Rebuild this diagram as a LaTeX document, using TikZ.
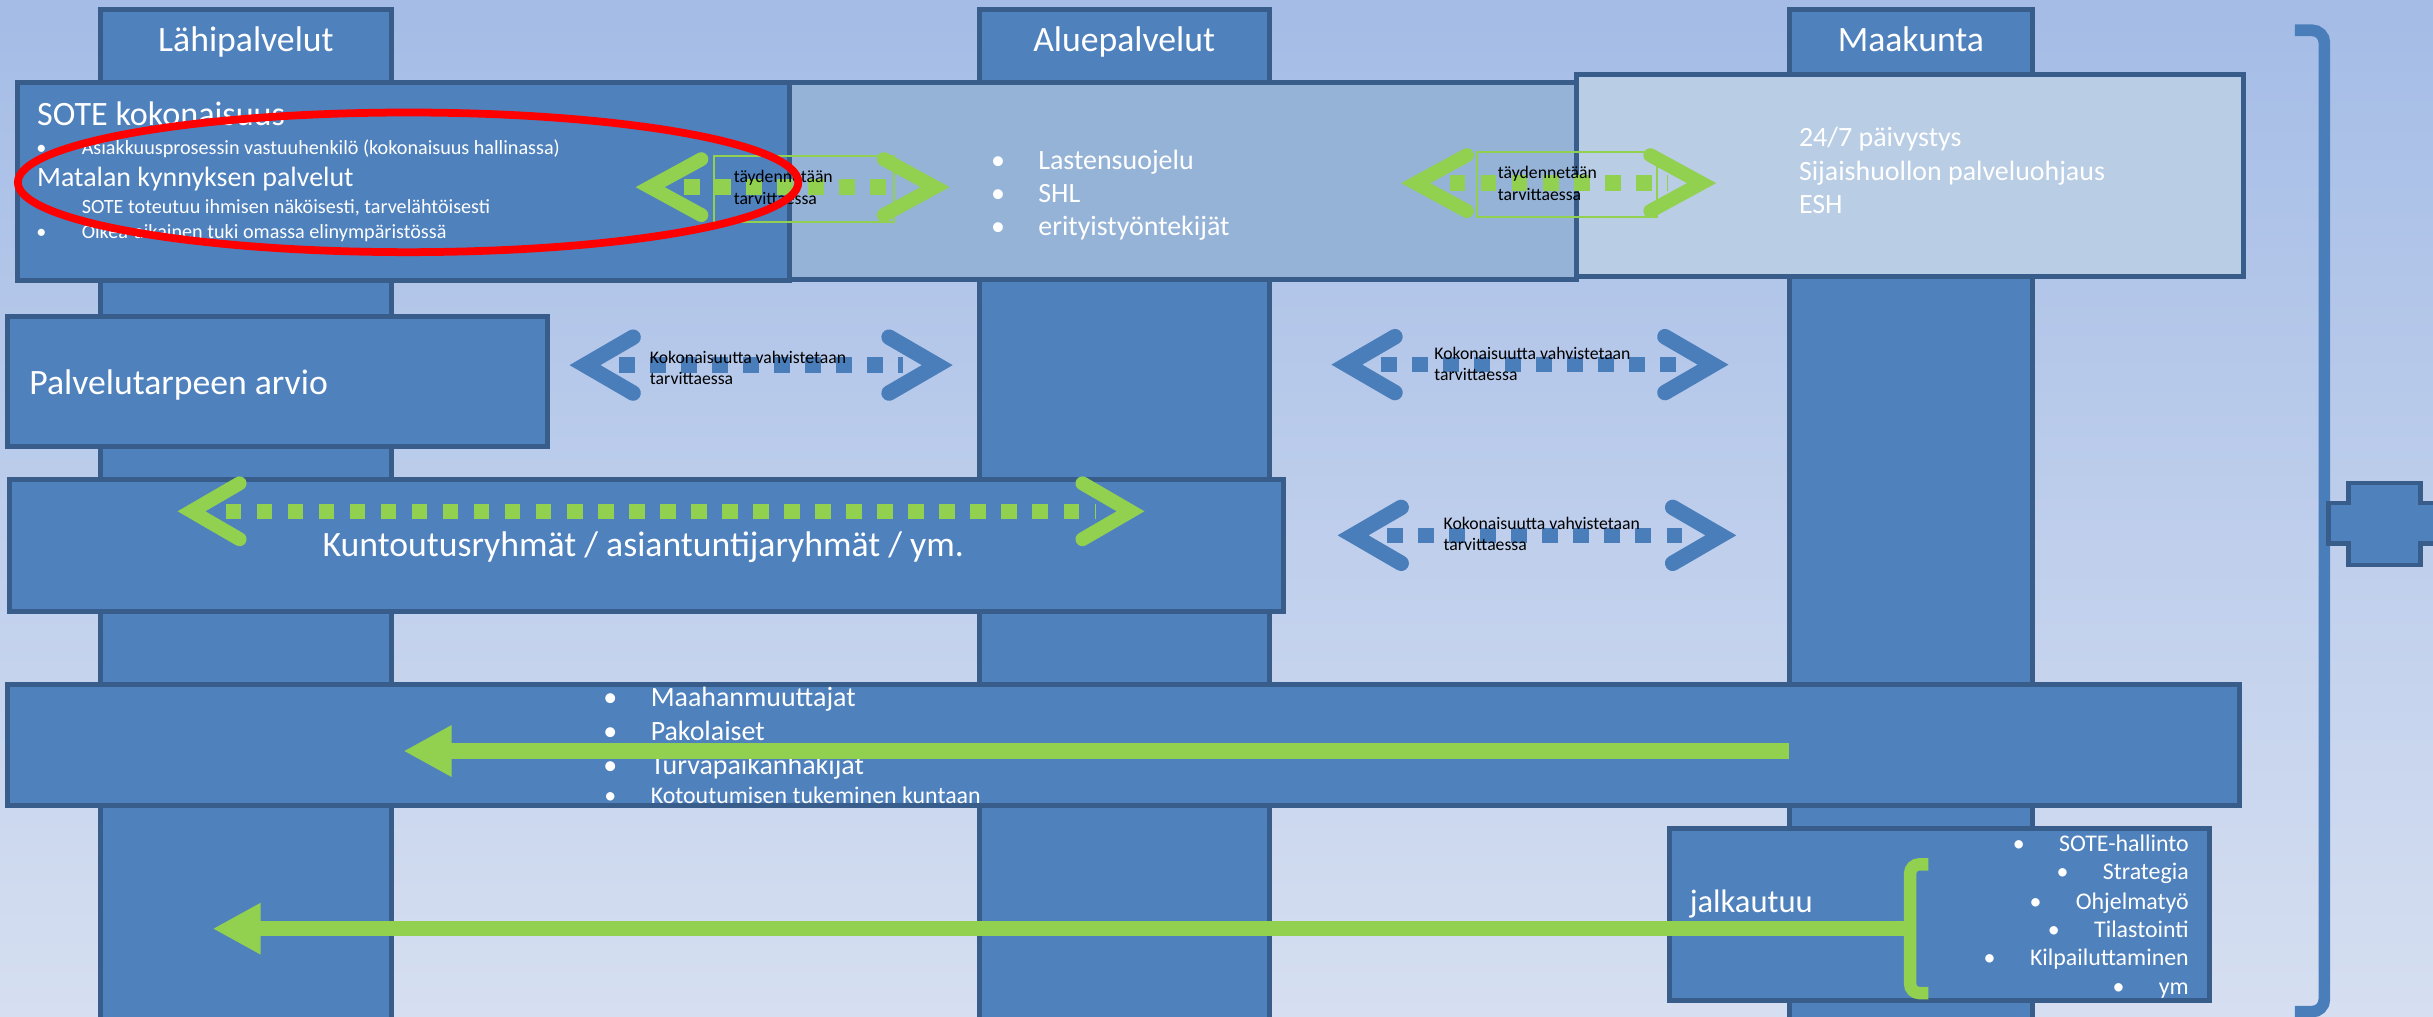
\documentclass[tikz,border=0pt]{standalone}
\usepackage{fontspec}
\setmainfont{Carlito}
\usetikzlibrary{arrows.meta}
\definecolor{bgtop}{RGB}{164,188,230}
\definecolor{bgbot}{RGB}{214,223,241}
\definecolor{boxblue}{RGB}{79,129,189}
\definecolor{boxline}{RGB}{56,93,138}
\definecolor{paleA}{RGB}{149,179,215}
\definecolor{paleB}{RGB}{185,205,229}
\definecolor{leaf}{RGB}{146,208,80}
\definecolor{arrowblue}{RGB}{74,126,187}
\tikzstyle{box} = [draw=boxline, line width=1.6pt, fill=boxblue]
\tikzstyle{lbl} = [inner sep=0pt, text=white, anchor=base west]
\tikzstyle{colhead} = [lbl, anchor=base, font=\fontsize{11.5}{14}\selectfont]
\tikzstyle{txtbig} = [lbl, font=\fontsize{11.5}{14}\selectfont]
\tikzstyle{txtmid} = [lbl, font=\fontsize{9}{11}\selectfont]
\tikzstyle{txtsmall} = [lbl, font=\fontsize{7.7}{9}\selectfont]
\tikzstyle{txttiny} = [lbl, font=\fontsize{6.5}{8}\selectfont]
\tikzstyle{note} = [inner sep=0pt, text=black, anchor=base west, font=\fontsize{5.7}{7}\selectfont]
\tikzstyle{textframe} = [draw=leaf, line width=0.6pt]
\tikzstyle{gchev} = [draw=leaf, line width=4.5pt, line cap=round, line join=miter]
\tikzstyle{bchev} = [draw=arrowblue, line width=5pt, line cap=round, line join=miter]
\tikzstyle{gdots} = [draw=leaf, line width=5pt, dash pattern=on 5pt off 5pt, shorten <=11pt, shorten >=11pt]
\tikzstyle{bdots} = [draw=arrowblue, line width=5pt, dash pattern=on 5pt off 5pt, shorten <=11pt, shorten >=11pt]
\tikzstyle{bigarrow} = [draw=leaf, line width=5pt, -{Triangle[length=15.5pt,width=15.5pt]}, color=leaf]
\tikzstyle{redring} = [draw=red, line width=2.5pt]
\newcommand{\bul}{\llap{\makebox[26pt][c]{\textbullet}}}

\begin{document}
\begin{tikzpicture}[x=0.5pt, y=-0.5pt]
  \useasboundingbox (0,0) rectangle (1568,655);
  \clip (0,0) rectangle (1568,655);
  \fill[top color=bgtop, bottom color=bgbot] (0,0) rectangle (1568,655);

  % columns
  \draw[box] (65,6) rectangle (252,700);
  \draw[box] (631,6) rectangle (818,700);
  \draw[box] (1153,6) rectangle (1310,700);
  \node[colhead] (hlahi) at (158.5,33.3) {Lähipalvelut};
  \node[colhead] (halue) at (724.5,33.3) {Aluepalvelut};
  \node[colhead] (hmaak) at (1231.5,33.3) {Maakunta};

  % boxes
  \draw[box] (11,53) rectangle (509,181);
  \draw[box, fill=paleA] (509,53) rectangle (1016,180);
  \draw[box, fill=paleB] (1016,48) rectangle (1446,178);
  \draw[box] (5,204) rectangle (353,288);
  \draw[box] (6,309) rectangle (827,394);
  \draw[box] (5,441) rectangle (1443,519);
  \draw[box] (1076,534) rectangle (1424,645);

  \node[lbl, font=\fontsize{11}{13}\selectfont] (sote) at (23.6,80.6) {SOTE kokonaisuus};
  \node[txttiny] (sote1) at (52.3,99.3) {\bul Asiakkuusprosessin vastuuhenkilö (kokonaisuus hallinassa)};
  \node[txtmid] (matala) at (23.6,119.9) {Matalan kynnyksen palvelut};
  \node[txttiny] (sote2) at (52.3,137.5) {SOTE toteutuu ihmisen näköisesti, tarvelähtöisesti};
  \node[txttiny] (sote3) at (52.3,153.6) {\bul Oikea-aikainen tuki omassa elinympäristössä};

  \node[txtmid] (lasten1) at (668.8,109.3) {\bul Lastensuojelu};
  \node[txtmid] (lasten2) at (668.8,130.8) {\bul SHL};
  \node[txtmid] (lasten3) at (668.8,152) {\bul erityistyöntekijät};

  \node[txtmid] (paiv1) at (1159,94.5) {24/7 päivystys};
  \node[txtmid] (paiv2) at (1159,116) {Sijaishuollon palveluohjaus};
  \node[txtmid] (paiv3) at (1159,137.5) {ESH};

  \node[txtbig] (arvio) at (18.5,254.1) {Palvelutarpeen arvio};
  \node[txtbig] (kunt) at (207.5,358.7) {Kuntoutusryhmät / asiantuntijaryhmät / ym.};

  \node[txtmid] (maah1) at (419,455.4) {\bul Maahanmuuttajat};
  \node[txtmid] (maah2) at (419,477) {\bul Pakolaiset};
  \node[txtmid] (maah3) at (419,499) {\bul Turvapaikanhakijat};
  \node[txtsmall] (maah4) at (419,517.7) {\bul Kotoutumisen tukeminen kuntaan};

  \node[lbl, font=\fontsize{10.5}{12}\selectfont] (jalk) at (1088.6,588.2) {jalkautuu};
  \node[txtsmall, anchor=base east] (list1) at (1411,548.9) {\bul SOTE-hallinto};
  \node[txtsmall, anchor=base east] (list2) at (1411,567.1) {\bul Strategia};
  \node[txtsmall, anchor=base east] (list3) at (1411,586) {\bul Ohjelmatyö};
  \node[txtsmall, anchor=base east] (list4) at (1411,604.3) {\bul Tilastointi};
  \node[txtsmall, anchor=base east] (list5) at (1411,622.5) {\bul Kilpailuttaminen};
  \node[txtsmall, anchor=base east] (list6) at (1411,641.2) {\bul ym};

  % double arrows
  \coordinate (g1l) at (419,120.6);
  \coordinate (g1r) at (602.6,120.6);
  \coordinate (g2l) at (912.4,118);
  \coordinate (g2r) at (1096.6,118);
  \coordinate (g3l) at (123.4,329.5);
  \coordinate (g3r) at (728.6,329.5);
  \coordinate (b1l) at (377,235.3);
  \coordinate (b1r) at (604,235.3);
  \coordinate (b2l) at (868,235);
  \coordinate (b2r) at (1104,235);
  \coordinate (b3l) at (872,345);
  \coordinate (b3r) at (1109,345);

  \draw[textframe] (460,100.5) rectangle (576,143);
  \draw[textframe] (952,98) rectangle (1068,140);
  \draw[gdots] (g1l) -- (g1r);
  \draw[gdots] (g2l) -- (g2r);
  \draw[gdots] (g3l) -- (g3r);
  \draw[bdots] (b1l) -- (b1r);
  \draw[bdots] (b2l) -- (b2r);
  \draw[bdots] (b3l) -- (b3r);
  \draw[gchev] (g1l) ++(33,-18) -- (g1l) -- ++(33,18);
  \draw[gchev] (g1r) ++(-33,-18) -- (g1r) -- ++(-33,18);
  \draw[gchev] (g2l) ++(33,-18) -- (g2l) -- ++(33,18);
  \draw[gchev] (g2r) ++(-33,-18) -- (g2r) -- ++(-33,18);
  \draw[gchev] (g3l) ++(31,-18) -- (g3l) -- ++(31,18);
  \draw[gchev] (g3r) ++(-31,-18) -- (g3r) -- ++(-31,18);
  \draw[bchev] (b1l) ++(31,-18) -- (b1l) -- ++(31,18);
  \draw[bchev] (b1r) ++(-31,-18) -- (b1r) -- ++(-31,18);
  \draw[bchev] (b2l) ++(31,-18) -- (b2l) -- ++(31,18);
  \draw[bchev] (b2r) ++(-31,-18) -- (b2r) -- ++(-31,18);
  \draw[bchev] (b3l) ++(31,-18) -- (b3l) -- ++(31,18);
  \draw[bchev] (b3r) ++(-31,-18) -- (b3r) -- ++(-31,18);

  \node[note] (t1a) at (472.5,117.7) {täydennetään};
  \node[note] (t1b) at (472.5,131.5) {tarvittaessa};
  \node[note] (t2a) at (965,115) {täydennetään};
  \node[note] (t2b) at (965,129) {tarvittaessa};
  \node[note] (k1a) at (418.5,234) {Kokonaisuutta vahvistetaan};
  \node[note] (k1b) at (418.5,247.5) {tarvittaessa};
  \node[note] (k2a) at (924,231.6) {Kokonaisuutta vahvistetaan};
  \node[note] (k2b) at (924,245.5) {tarvittaessa};
  \node[note] (k3a) at (930,341) {Kokonaisuutta vahvistetaan};
  \node[note] (k3b) at (930,355) {tarvittaessa};

  % big arrows
  \coordinate (a1s) at (1153,484);
  \coordinate (a1e) at (260,484);
  \coordinate (brk) at (1228,598.5);
  \coordinate (a2e) at (137,598.5);
  \draw[bigarrow] (a1s) -- (a1e);
  \draw[bigarrow] (brk) -- (a2e);
  \draw[leaf, line width=4pt, rounded corners=3pt] (1242.7,557) -- (1231,557) -- (1231,640) -- (1242.7,640);

  % right bracket
  \draw[arrowblue, line width=3.75pt, rounded corners=4pt] (1479,19.5) -- (1498,19.5) -- (1498,652) -- (1479,652);
  \draw[box, line width=1.5pt] (1500.5,324.2) -- (1513.5,324.2) -- (1513.5,311.3) -- (1559.8,311.3) -- (1559.8,324.2) -- (1575,324.2) -- (1575,350.4) -- (1559.8,350.4) -- (1559.8,364.1) -- (1513.5,364.1) -- (1513.5,350.4) -- (1500.5,350.4) -- cycle;

  \draw[redring] (263,117.5) ellipse [x radius=125.75pt, y radius=22.5pt];
\end{tikzpicture}
\end{document}
